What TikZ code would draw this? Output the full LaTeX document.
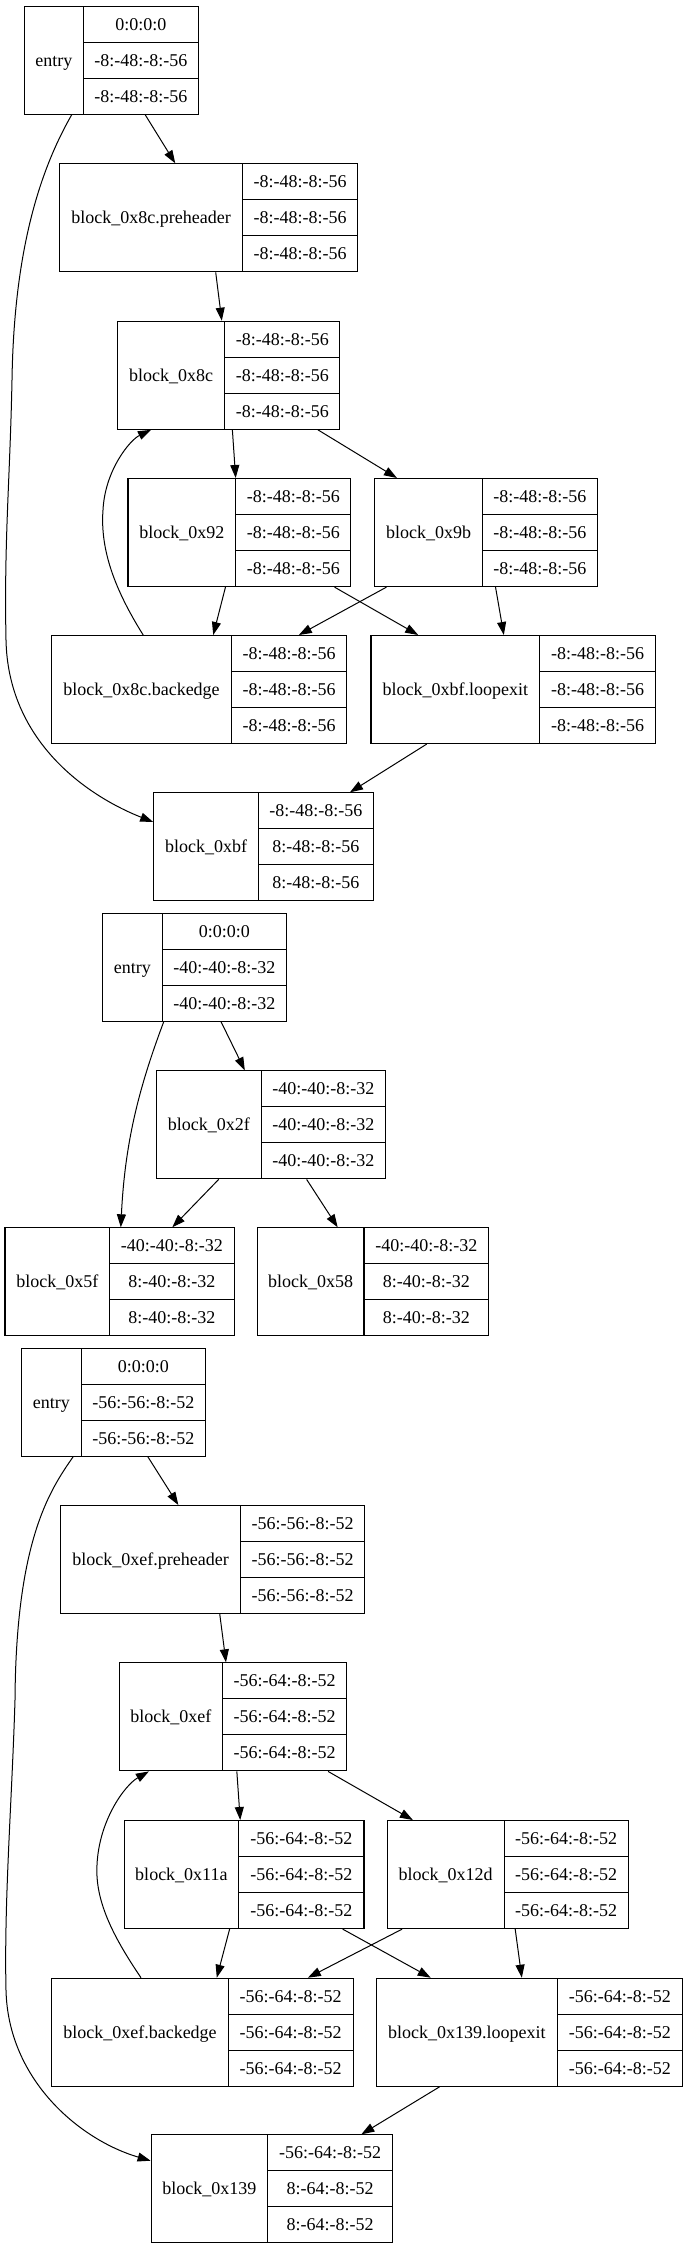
\documentclass[tikz,border=0pt]{standalone}
\usepackage{fontspec}
\setmainfont{Liberation Serif}
\usetikzlibrary{arrows.meta}
\tikzset{
  cell/.style={draw=black, line width=1.1pt, inner sep=0pt, minimum height=36pt,
    text height=12pt, text depth=0pt, font=\fontsize{18}{21}\selectfont},
  recbox/.style={draw=none, inner sep=0pt, outer sep=0.55pt, minimum height=108pt},
  edge/.style={-{Triangle[length=13pt,width=9pt]}, line width=1pt, black},
}
% #1 name, #2 left x, #3 divider x, #4 right x, #5 top y, #6 label, #7-#9 cells
\newcommand\blk[9]{%
  \node[cell, anchor=north west, minimum width={#3-#2}, minimum height=108pt] (#1-l) at (#2,#5) {#6};
  \node[cell, anchor=north west, minimum width={#4-#3}] (#1-a) at (#3,#5) {#7};
  \node[cell, anchor=north west, minimum width={#4-#3}] (#1-b) at (#3,{#5+36}) {#8};
  \node[cell, anchor=north west, minimum width={#4-#3}] (#1-c) at (#3,{#5+72}) {#9};
  \node[recbox, anchor=north west, minimum width={#4-#2}] (#1) at (#2,#5) {};
}
\begin{document}
\begin{tikzpicture}[x=1pt,y=-1pt]
\useasboundingbox (0,0) rectangle (683,2249);
% ---------- graph 1 ----------
\def\A{-8:-48:-8:-56}
\blk{e1}{24}{82.7}{198}{5.7}{entry}{0:0:0:0}{\A}{\A}
\blk{pre1}{59.3}{242}{357.3}{163.3}{block\_0x8c.preheader}{\A}{\A}{\A}
\blk{b8c}{116.9}{224.2}{339.3}{320.7}{block\_0x8c}{\A}{\A}{\A}
\blk{b92}{127.4}{235.1}{350.3}{478}{block\_0x92}{\A}{\A}{\A}
\blk{b9b}{374.3}{481.6}{596.8}{478}{block\_0x9b}{\A}{\A}{\A}
\blk{be1}{51.2}{230.7}{346.3}{635}{block\_0x8c.backedge}{\A}{\A}{\A}
\blk{le1}{370.4}{539}{655}{635}{block\_0xbf.loopexit}{\A}{\A}{\A}
\blk{bf1}{153.2}{257.9}{372.6}{792.3}{block\_0xbf}{\A}{8:-48:-8:-56}{8:-48:-8:-56}
\draw[edge] (e1) -- (pre1);
\draw[edge] (pre1) -- (b8c);
\draw[edge] (b8c) -- (b92);
\draw[edge] (b8c) -- (b9b);
\draw[edge] (b92) -- (be1);
\draw[edge] (b92) -- (le1);
\draw[edge] (b9b) -- (be1);
\draw[edge] (b9b) -- (le1);
\draw[edge] (le1) -- (bf1);
\draw[edge] ([xshift=47.7pt]e1.south west) .. controls (40,170) and (14,250) .. (12,380)
  .. controls (10,480) and (4,540) .. (6,640)
  .. controls (8,740) and (85,795) .. ([yshift=-29.7pt]bf1.north west);
\draw[edge] ([xshift=92pt]be1.north west) .. controls (115,590) and (100,550) .. (103,510)
  .. controls (105,470) and (130,440) .. ([xshift=34.1pt]b8c.south west);
% ---------- graph 2 ----------
\def\B{-40:-40:-8:-32}
\def\C{8:-40:-8:-32}
\blk{e2}{102}{161.6}{285.9}{912.7}{entry}{0:0:0:0}{\B}{\B}
\blk{b2f}{156.3}{260.5}{385.3}{1070.3}{block\_0x2f}{\B}{\B}{\B}
\blk{b5f}{4.4}{109}{233.8}{1227.3}{block\_0x5f}{\B}{\C}{\C}
\blk{b58}{256.6}{363.4}{488.2}{1227.3}{block\_0x58}{\B}{\C}{\C}
\draw[edge] (e2) -- (b2f);
\draw[edge] (b2f) -- (b5f);
\draw[edge] (b2f) -- (b58);
\draw[edge] ([xshift=61.7pt]e2.south west) .. controls (140,1085) and (125,1140) .. ([xshift=116.4pt]b5f.north west);
% ---------- graph 3 ----------
\def\D{-56:-56:-8:-52}
\def\E{-56:-64:-8:-52}
\blk{e3}{21}{80.6}{204.9}{1347.7}{entry}{0:0:0:0}{\D}{\D}
\blk{pre3}{60}{240}{364.3}{1505}{block\_0xef.preheader}{\D}{\D}{\D}
\blk{bef}{118.7}{222}{346.3}{1662.3}{block\_0xef}{\E}{\E}{\E}
\blk{b11a}{123.5}{238.2}{363.4}{1820}{block\_0x11a}{\E}{\E}{\E}
\blk{b12d}{386.6}{503.5}{627.8}{1820}{block\_0x12d}{\E}{\E}{\E}
\blk{be3}{51.2}{227.7}{352.5}{1977.7}{block\_0xef.backedge}{\E}{\E}{\E}
\blk{le3}{375.7}{557}{681.7}{1977.7}{block\_0x139.loopexit}{\E}{\E}{\E}
\blk{b139}{150.6}{267.1}{391.9}{2134.3}{block\_0x139}{\E}{8:-64:-8:-52}{8:-64:-8:-52}
\draw[edge] (e3) -- (pre3);
\draw[edge] (pre3) -- (bef);
\draw[edge] (bef) -- (b11a);
\draw[edge] (bef) -- (b12d);
\draw[edge] (b11a) -- (be3);
\draw[edge] (b11a) -- (le3);
\draw[edge] (b12d) -- (be3);
\draw[edge] (b12d) -- (le3);
\draw[edge] (le3) -- (b139);
\draw[edge] ([xshift=52.1pt]e3.south west) .. controls (50,1490) and (16,1540) .. (15,1700)
  .. controls (12,1800) and (4,1900) .. (6,1990)
  .. controls (8,2080) and (80,2140) .. ([yshift=-26.4pt]b139.north west);
\draw[edge] ([xshift=89.8pt]be3.north west) .. controls (112,1935) and (95,1900) .. (97,1865)
  .. controls (99,1820) and (125,1785) .. ([xshift=30.2pt]bef.south west);
\end{tikzpicture}
\end{document}
